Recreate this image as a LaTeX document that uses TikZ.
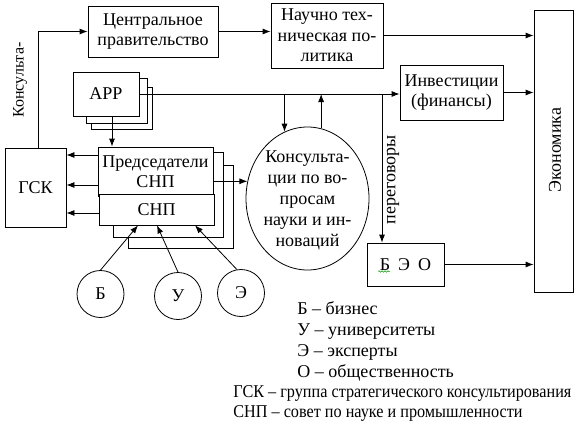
\documentclass[tikz,border=0pt]{standalone}
\usepackage{fontspec}
\setmainfont{Liberation Serif}
\newfontfamily\narrowserif[FakeStretch=0.9]{Liberation Serif}
\usetikzlibrary{arrows.meta,shapes.geometric,decorations.pathmorphing}

\begin{document}
\begin{tikzpicture}[x=1pt,y=-1pt,font=\fontsize{18}{20.5}\selectfont,
    line width=.8pt,>={Latex[length=8pt,width=6pt]},
    box/.style={draw,fill=white,align=center,inner sep=0pt},
    ring/.style={draw,circle,minimum size=47pt,inner sep=0pt},
    legend/.style={anchor=west,align=left,inner sep=0pt}]
  \useasboundingbox (0,0) rectangle (580,428);
  % top row
  \node[box,minimum width=130pt,minimum height=51pt] (central) at (153,31.5) {Центральное\\правительство};
  \node[box,minimum width=112pt,minimum height=65pt] (ntp) at (327,35.5) {Научно тех-\\ническая по-\\литика};
  \node[box,minimum width=39pt,minimum height=282pt] (econ) at (553.5,151) {};
  \node[rotate=90] (econLabel) at (555,150) {Экономика};
  \node[box,minimum width=103pt,minimum height=55pt] (invest) at (451.5,92.5) {Инвестиции\\(финансы)};
  % stacked boxes
  \node[box,minimum width=61pt,minimum height=42pt] (app3) at (121.5,108) {};
  \node[box,minimum width=61pt,minimum height=45pt] (app2) at (116.5,100.5) {};
  \node[box,minimum width=66pt,minimum height=44pt] (app) at (106,94) {АРР};
  \node[box,minimum width=105pt,minimum height=83pt] (pred3) at (180.5,206.5) {};
  \node[box,minimum width=110pt,minimum height=85pt] (pred2) at (168,194.5) {};
  \node[box,minimum width=115pt,minimum height=49pt] (pred) at (155.5,171.5) {Председатели\\СНП};
  \node[box,minimum width=115pt,minimum height=31pt] (snp) at (156.5,209.5) {СНП};
  \node[box,minimum width=61pt,minimum height=79pt] (gsk) at (35.5,187.5) {ГСК};
  % consultations
  \node[draw,ellipse,minimum width=123pt,minimum height=143pt,inner sep=0pt] (cons) at (307.5,198.5) {};
  \node[align=center,font=\fontsize{18}{21}\selectfont] (consText) at (307.5,200.5) {Консульта-\\ции по во-\\просам\\науки и ин-\\новаций};
  \node[box,minimum width=77pt,minimum height=43pt] (beo) at (405.5,264.5) {Б\hspace{8pt}Э\hspace{8pt}О};
  \draw[green!60!black,line width=.5pt,decorate,decoration={snake,amplitude=.8pt,segment length=3pt}] (378,271.5) -- (390,271.5);
  % circles
  \node[ring] (b) at (100.5,294) {Б};
  \node[ring] (u) at (178,296) {У};
  \node[ring] (e) at (241,293) {Э};

  % arrows
  \draw[->] (central.east) -- (central.east -| ntp.west);
  \draw[->] (ntp.east) -- (ntp.east -| econ.west);
  \draw[->] (invest.east) -- (invest.east -| econ.west);
  \draw[->] (beo.east) -- (beo.east -| econ.west);
  \draw[->] (app.east) -- (app.east -| invest.west);
  \draw[->] (cons.109 |- app.east) -- (cons.109);
  \draw[->] (cons.79) -- (cons.79 |- app.east);
  \coordinate (talk) at ([xshift=-23.5pt]beo.north);
  \draw[->] (talk |- app.east) -- (talk);
  \node[rotate=90] (talkLabel) at (393,180) {переговоры};
  \draw[->] ([xshift=2.5pt]gsk.north) |- (central.west);
  \node[rotate=90,font=\fontsize{16}{18}\selectfont] (consLabel) at (20,80) {Консульта-};
  \coordinate (a1) at ([xshift=6pt]app.south);
  \draw[->] (a1) -- (a1 |- pred.north);
  \foreach \nd/\dy in {pred/16.5pt,pred/-13.5pt,snp/-3.5pt}{
    \draw[->] ([yshift=\dy]\nd.west) coordinate (g) -- (g -| gsk.east);
  }
  \draw[->] (pred.east |- cons.164) -- (cons.164);
  \draw[->] (b.north) -- ([xshift=-18.5pt]snp.south);
  \draw[->] (u.north) -- ([xshift=.5pt]snp.south);
  \draw[->] (e.100) -- ([xshift=38.5pt]snp.south);

  % legend
  \node[legend,font=\fontsize{18}{21}\selectfont] (legA) at (297,341.5) {Б – бизнес\\У – университеты\\Э – эксперты\\О – общественность};
  \node[legend,font=\narrowserif\fontsize{18}{20}\selectfont] (legB) at (233,403) {ГСК – группа стратегического консультирования\\СНП – совет по науке и промышленности};
\end{tikzpicture}
\end{document}
